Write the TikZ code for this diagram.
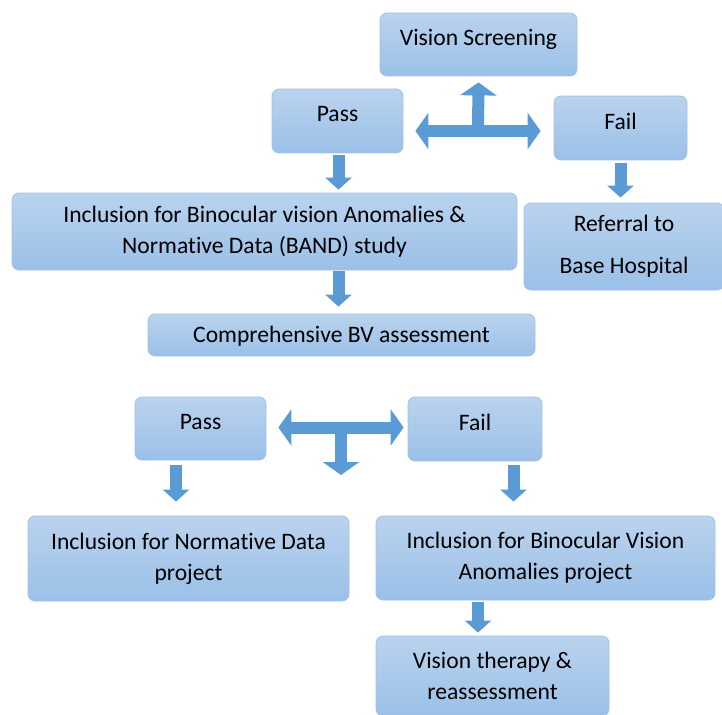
\documentclass[tikz,border=0pt]{standalone}
\usepackage{fontspec}
\setmainfont[Ligatures=NoCommon]{Carlito}
\usetikzlibrary{arrows.meta,calc}
\definecolor{boxtop}{HTML}{BAD3EE}
\definecolor{boxbot}{HTML}{9BC0E8}
\definecolor{boxline}{HTML}{A1C2E8}
\definecolor{arrowblue}{HTML}{5B9BD5}
\tikzset{
  flowbox/.style={draw=boxline, line width=0.8pt, rounded corners=7pt,
    top color=boxtop, bottom color=boxbot, align=center, inner sep=0pt,
    font=\fontsize{23.6}{31}\selectfont, text=black},
  raised/.style={text height=15pt, text depth=13pt},
  blockarrow/.style={arrowblue, line width=12pt, -{Triangle[width=26pt,length=12pt]}},
  forkarrow/.style={arrowblue, line width=12pt, -{Triangle[width=36pt,length=13pt]}},
  twoway/.style={arrowblue, line width=12pt,
    {Triangle[width=36pt,length=13pt]}-{Triangle[width=36pt,length=13pt]}}
}
\begin{document}
\begin{tikzpicture}[x=1pt,y=-1pt]
  \useasboundingbox (0,0) rectangle (722,714);

  % screening stage
  \node[flowbox, raised, minimum width=197pt, minimum height=63pt] (screen) at (478.5,44.5) {Vision Screening};
  \node[flowbox, raised, minimum width=131pt, minimum height=64pt] (pass1) at (337.5,121) {Pass};
  \node[flowbox, text height=15pt, text depth=11pt, minimum width=133pt, minimum height=64pt] (fail1) at (620.5,128) {Fail};
  \node[flowbox, minimum width=505pt, minimum height=77pt] (band) at (264.5,231.5)
    {Inclusion for Binocular vision Anomalies \&\\Normative Data (BAND) study};
  \node[flowbox, minimum width=200pt, minimum height=87pt] (referral) at (624,246.5)
    {Referral to\\[11pt]Base Hospital};
  \node[flowbox, text height=15pt, text depth=0pt, minimum width=387pt, minimum height=42pt] (assess) at (341.5,335) {Comprehensive BV assessment};

  % assessment stage
  \node[flowbox, raised, minimum width=131pt, minimum height=63pt] (pass2) at (200.5,428.5) {Pass};
  \node[flowbox, raised, minimum width=134pt, minimum height=64pt] (fail2) at (475,429) {Fail};
  \node[flowbox, minimum width=321pt, minimum height=85pt] (normdata) at (188.5,558.5)
    {Inclusion for Normative Data\\project};
  \node[flowbox, minimum width=339pt, minimum height=84pt] (bvproj) at (545.5,558)
    {Inclusion for Binocular Vision\\Anomalies project};
  \node[flowbox, minimum width=233pt, minimum height=80pt] (therapy) at (492.5,676)
    {Vision therapy \&\\reassessment};

  % block arrows
  \coordinate (topfork) at (478,131);
  \coordinate (lowfork) at (341,427.5);
  \draw[twoway] ($(pass1.east |- topfork)+(12,0)$) -- ($(fail1.west |- topfork)+(-13,0)$);
  \draw[forkarrow] (topfork) -- ($(screen.south)+(0,6)$);
  \draw[blockarrow] ($(pass1.south)+(1,2)$) -- ($(pass1.south |- band.north)+(1,-3)$);
  \draw[blockarrow] ($(fail1.south)+(0,3)$) -- ($(fail1.south |- referral.north)+(0,-5)$);
  \draw[blockarrow] ($(assess.north |- band.south)+(-3,1)$) -- ($(assess.north)+(-3,-7)$);
  \draw[twoway] ($(pass2.east |- lowfork)+(12,0)$) -- ($(fail2.west |- lowfork)+(-4,0)$);
  \draw[forkarrow] (lowfork) -- ($(lowfork)+(0,47.5)$);
  \draw[blockarrow] ($(pass2.south)+(-24.5,5)$) -- ($(pass2.south |- normdata.north)+(-24.5,-14)$);
  \draw[blockarrow] ($(fail2.south)+(38.5,4)$) -- ($(fail2.south |- bvproj.north)+(38.5,-14)$);
  \draw[blockarrow] ($(therapy.north |- bvproj.south)+(-14.5,2)$) -- ($(therapy.north)+(-14.5,-3)$);
\end{tikzpicture}
\end{document}
